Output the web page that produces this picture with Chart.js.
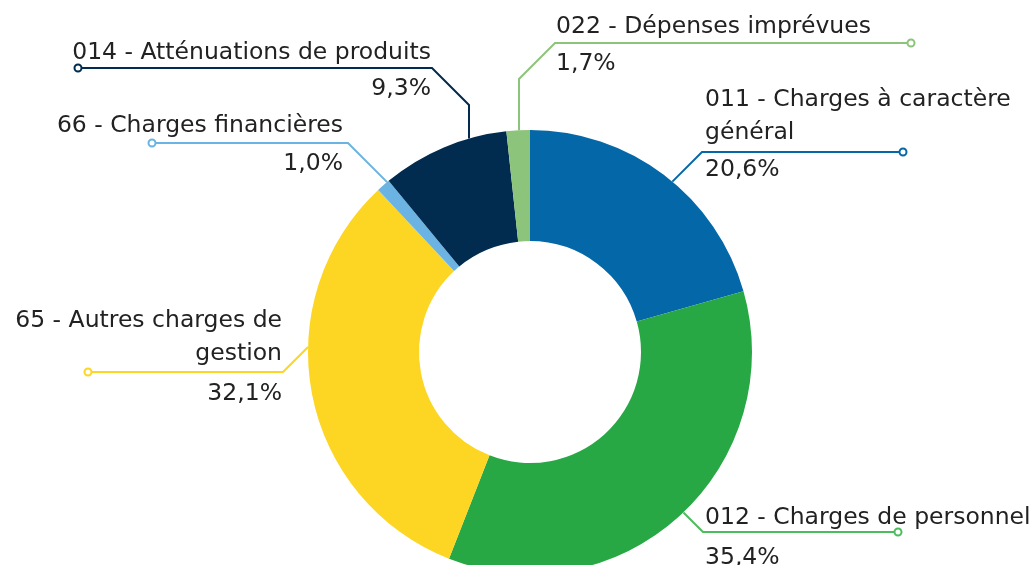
<!DOCTYPE html>
<html>
<head>
<meta charset="utf-8">
<script src="https://cdn.jsdelivr.net/npm/chart.js@4/dist/chart.umd.min.js"></script>
<style>
  html, body { margin: 0; padding: 0; background: #fff; overflow: hidden; }
  canvas { display: block; }
</style>
</head>
<body>
<canvas id="graph" width="1036" height="600"></canvas>
<script>
// chapitres budgétaires, dans l'ordre horaire à partir de midi
const categories = [
  ["011 - Charges à caractère", "général"],
  ["012 - Charges de personnel"],
  ["65 - Autres charges de", "gestion"],
  ["66 - Charges financières"],
  ["014 - Atténuations de produits"],
  ["022 - Dépenses imprévues"]
];
const values = [20.6, 35.4, 32.1, 1.0, 9.3, 1.7];
const colors = ["#0467a8", "#27a845", "#fdd523", "#6bb3e2", "#012b4f", "#8dc47b"];
const lineColors = ["#0467a8", "#4cbd5c", "#fdd523", "#6bb3e2", "#012b4f", "#8dc47b"];

// placement des étiquettes (coude, bout du trait, texte)
const leaderLayout = [
  { pts: [[702, 152], [903, 152]], dir: [-1, 1], textX: 705, align: "left", nameY: 139, pctY: 176 },
  { pts: [[703, 532], [898, 532]], dir: [-1, -1], textX: 705, align: "left", nameY: 524, pctY: 564 },
  { pts: [[283, 372], [88, 372]], dir: [1, -1], textX: 282, align: "right", nameY: 360, pctY: 400 },
  { pts: [[348, 143], [152, 143]], dir: [1, 1], textX: 343, align: "right", nameY: 132, pctY: 170 },
  { pts: [[469, 105], [432, 68], [78, 68]], dir: [0, 1], textX: 431, align: "right", nameY: 59, pctY: 95 },
  { pts: [[519, 79], [555, 43], [911, 43]], dir: [0, 1], textX: 556, align: "left", nameY: 33, pctY: 70 }
];
const lineHeight = 33;

const fmt = v => v.toFixed(1).replace(".", ",") + "%";

// point où le trait touche le bord extérieur de l'anneau
function hitArc(p, d, arc) {
  const fx = p[0] - arc.x, fy = p[1] - arc.y;
  const a = d[0] * d[0] + d[1] * d[1];
  const b = 2 * (fx * d[0] + fy * d[1]);
  const c = fx * fx + fy * fy - arc.outerRadius * arc.outerRadius;
  const disc = b * b - 4 * a * c;
  if (disc < 0) return p;
  const t = (-b - Math.sqrt(disc)) / (2 * a);
  return [p[0] + t * d[0], p[1] + t * d[1]];
}

const leaderLabels = {
  id: "leaderLabels",
  afterDraw(chart) {
    const ctx = chart.ctx;
    const meta = chart.getDatasetMeta(0);
    ctx.save();
    meta.data.forEach((arc, i) => {
      const lay = leaderLayout[i];
      const start = hitArc(lay.pts[0], lay.dir, arc);
      const pts = [start].concat(lay.pts);
      ctx.strokeStyle = lineColors[i];
      ctx.lineWidth = 2;
      ctx.lineJoin = "miter";
      ctx.beginPath();
      ctx.moveTo(pts[0][0], pts[0][1]);
      for (let k = 1; k < pts.length; k++) ctx.lineTo(pts[k][0], pts[k][1]);
      ctx.stroke();
      const end = pts[pts.length - 1];
      ctx.beginPath();
      ctx.arc(end[0], end[1], 3.5, 0, Math.PI * 2);
      ctx.fillStyle = "#fff";
      ctx.fill();
      ctx.stroke();

      ctx.fillStyle = "#222";
      ctx.font = "23.5px 'DejaVu Sans'";
      ctx.textAlign = lay.align;
      ctx.textBaseline = "alphabetic";
      const lines = categories[i];
      lines.forEach((txt, k) => {
        ctx.fillText(txt, lay.textX, lay.nameY - (lines.length - 1 - k) * lineHeight);
      });
      ctx.fillText(fmt(values[i]), lay.textX, lay.pctY);
    });
    ctx.restore();
  }
};

new Chart(document.getElementById("graph"), {
  type: "doughnut",
  data: {
    labels: categories.map(l => l.join(" ")),
    datasets: [{
      data: values,
      backgroundColor: colors,
      borderWidth: 0
    }]
  },
  options: {
    responsive: false,
    animation: false,
    cutout: "50%",
    layout: { padding: { top: 130, bottom: 26, left: 308, right: 284 } },
    plugins: {
      legend: { display: false },
      tooltip: { enabled: false }
    }
  },
  plugins: [leaderLabels]
});
</script>
</body>
</html>
